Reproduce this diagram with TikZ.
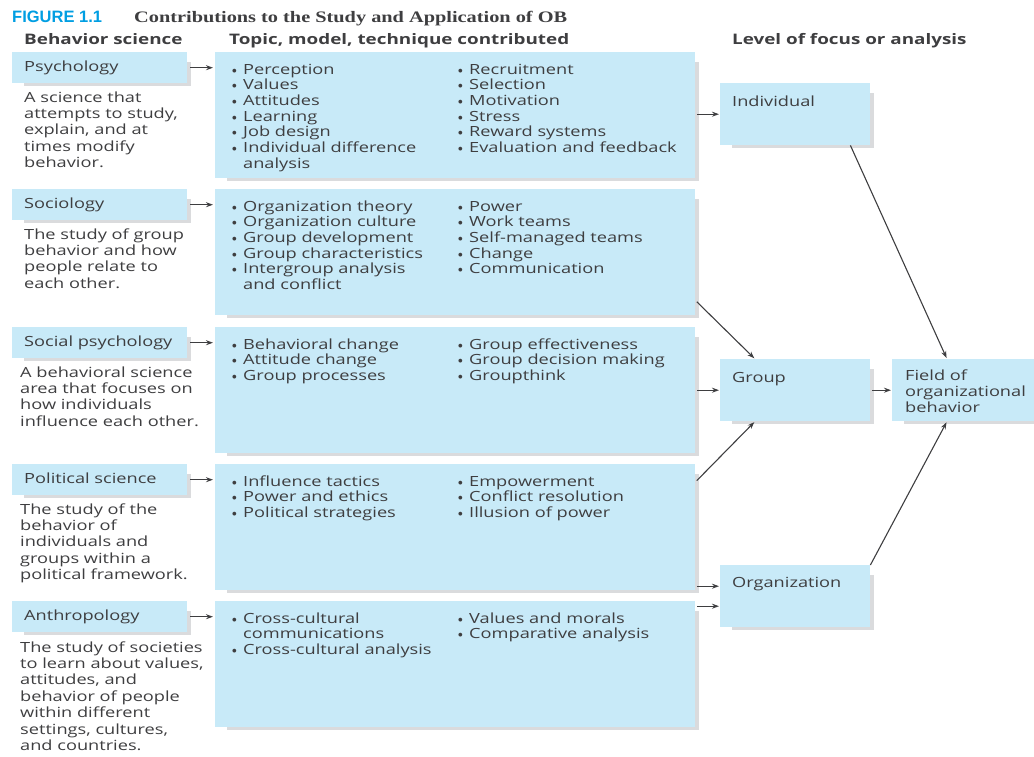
\documentclass[tikz,border=0pt]{standalone}
\usepackage{fontspec}
\setsansfont[FakeStretch=1.3]{Open Sans}
\newfontfamily\capfont{Liberation Sans}
\newfontfamily\headfont[FakeStretch=1.27]{Liberation Serif}
\usetikzlibrary{arrows.meta, positioning, backgrounds}

\definecolor{boxblue}{RGB}{200,234,248}
\definecolor{shadowgray}{RGB}{218,219,221}
\definecolor{ink}{RGB}{62,62,64}
\definecolor{figcyan}{RGB}{0,158,226}

\newcommand{\bl}{\makebox[14pt][l]{{\rmfamily\textbullet}}}
\newcommand{\cont}{\makebox[14pt][l]{}}
\newcommand{\lines}[1]{\begin{tabular}[t]{@{}l@{}}#1\end{tabular}}

\tikzset{
  txt/.style={inner sep=0pt, anchor=base west, text=ink, font=\sffamily\fontsize{14}{15.7}\selectfont},
  desc/.style={txt, font=\sffamily\fontsize{14}{16.4}\selectfont},
  head/.style={txt, font=\sffamily\bfseries\fontsize{14.5}{16}\selectfont},
  panel/.style={fill=boxblue, inner sep=0pt, anchor=north west},
  sci/.style={panel, minimum width=175pt, minimum height=31pt, text width=151pt, inner xsep=12pt,
    align=left, text height=10pt, text depth=3pt, text=ink, font=\sffamily\fontsize{14}{15.7}\selectfont},
  topics/.style={panel, minimum width=480pt, minimum height=126pt},
  level/.style={panel, minimum width=150pt, minimum height=62pt},
  link/.style={draw=ink, line width=1.1pt, -{Stealth[length=7pt,width=5pt]}},
}

\begin{document}
\begin{tikzpicture}[x=1pt, y=-1pt]
\useasboundingbox (0,0) rectangle (1034,756);

% title and column heads
\node[inner sep=0pt, anchor=base west, text=figcyan, font=\capfont\bfseries\fontsize{16.5}{18}\selectfont] (fig) at (12,22) {FIGURE 1.1};
\node[inner sep=0pt, anchor=base west, text=ink, font=\headfont\bfseries\fontsize{16}{18}\selectfont] (title) at (134,22) {Contributions to the Study and Application of OB};
\node[head] (hsci) at (24,44) {Behavior science};
\node[head] (htop) at (229,44) {Topic, model, technique contributed};
\node[head] (hlev) at (732,44) {Level of focus or analysis};

% psychology
\node[sci] (psy) at (12,52) {Psychology};
\node[desc] (psydesc) at (24,102) {\lines{A science that\\ attempts to study,\\ explain, and at\\ times modify\\ behavior.}};
\node[topics] (psymid) at (215,52) {};
\node[txt] (psya) at (229,74) {\lines{\bl Perception\\ \bl Values\\ \bl Attitudes\\ \bl Learning\\ \bl Job design\\ \bl Individual difference\\ \cont analysis}};
\node[txt] (psyb) at (455,74) {\lines{\bl Recruitment\\ \bl Selection\\ \bl Motivation\\ \bl Stress\\ \bl Reward systems\\ \bl Evaluation and feedback}};

% sociology
\node[sci] (soc) at (12,189) {Sociology};
\node[desc] (socdesc) at (24,239) {\lines{The study of group\\ behavior and how\\ people relate to\\ each other.}};
\node[topics] (socmid) at (215,189) {};
\node[txt] (soca) at (229,211) {\lines{\bl Organization theory\\ \bl Organization culture\\ \bl Group development\\ \bl Group characteristics\\ \bl Intergroup analysis\\ \cont and conflict}};
\node[txt] (socb) at (455,211) {\lines{\bl Power\\ \bl Work teams\\ \bl Self-managed teams\\ \bl Change\\ \bl Communication}};

% social psychology
\node[sci] (spy) at (12,327) {Social psychology};
\node[desc] (spydesc) at (20,377) {\lines{A behavioral science\\ area that focuses on\\ how individuals\\ influence each other.}};
\node[topics] (spymid) at (215,327) {};
\node[txt] (spya) at (229,349) {\lines{\bl Behavioral change\\ \bl Attitude change\\ \bl Group processes}};
\node[txt] (spyb) at (455,349) {\lines{\bl Group effectiveness\\ \bl Group decision making\\ \bl Groupthink}};

% political science
\node[sci] (pol) at (12,464) {Political science};
\node[desc] (poldesc) at (20,514) {\lines{The study of the\\ behavior of\\ individuals and\\ groups within a\\ political framework.}};
\node[topics] (polmid) at (215,464) {};
\node[txt] (pola) at (229,486) {\lines{\bl Influence tactics\\ \bl Power and ethics\\ \bl Political strategies}};
\node[txt] (polb) at (455,486) {\lines{\bl Empowerment\\ \bl Conflict resolution\\ \bl Illusion of power}};

% anthropology
\node[sci] (ant) at (12,601) {Anthropology};
\node[desc] (antdesc) at (20,652) {\lines{The study of societies\\ to learn about values,\\ attitudes, and\\ behavior of people\\ within different\\ settings, cultures,\\ and countries.}};
\node[topics] (antmid) at (215,601) {};
\node[txt] (anta) at (229,623) {\lines{\bl Cross-cultural\\ \cont communications\\ \bl Cross-cultural analysis}};
\node[txt] (antb) at (455,623) {\lines{\bl Values and morals\\ \bl Comparative analysis}};

% levels
\node[level] (ind) at (720,83) {};
\node[txt] (indtxt) at (732,106) {Individual};
\node[level] (grp) at (720,359) {};
\node[txt] (grptxt) at (732,382) {Group};
\node[level] (org) at (720,565) {};
\node[txt] (orgtxt) at (732,587) {Organization};
\node[level, minimum width=150pt] (field) at (892,359) {};
\node[desc] (fieldtxt) at (905,380) {\lines{Field of\\ organizational\\ behavior}};

% shadows
\begin{scope}[on background layer]
\foreach \b in {psy,soc,spy,pol,ant,psymid,socmid,spymid,polmid,antmid,ind,grp,org,field}
  \fill[shadowgray] ([xshift=12pt,yshift=-10pt]\b.north west) rectangle ([xshift=4pt,yshift=-3pt]\b.south east);
\end{scope}

% connectors
\foreach \s/\t in {psy/psymid,soc/socmid,spy/spymid,pol/polmid,ant/antmid}
  \draw[link, shorten <=3pt, shorten >=2pt] (\s.east) -- (\s.east -| \t.west);
\draw[link, shorten <=2pt, shorten >=1pt] (psymid.east |- ind.west) -- (ind.west);
\draw[link, shorten <=2pt, shorten >=1pt] ([yshift=15pt]socmid.south east) -- ([xshift=35pt]grp.north west);
\draw[link, shorten <=2pt, shorten >=1pt] (spymid.east |- grp.west) -- (grp.west);
\draw[link, shorten <=2pt, shorten >=1pt] ([yshift=-18pt]polmid.north east) -- ([xshift=35pt]grp.south west);
\draw[link, shorten <=2pt, shorten >=1pt] (polmid.east |- org.west) ++(0,-10) -- ([yshift=10pt]org.west);
\draw[link, shorten <=2pt, shorten >=1pt] (antmid.east |- org.west) ++(0,10) -- ([yshift=-10pt]org.west);
\draw[link, shorten <=2pt, shorten >=1pt] (grp.east) -- (field.west);
\draw[link, shorten >=1pt] ([xshift=-20pt]ind.south east) -- ([xshift=55pt]field.north west);
\draw[link, shorten >=1pt] (org.north east) -- ([xshift=55pt]field.south west);
\end{tikzpicture}
\end{document}
